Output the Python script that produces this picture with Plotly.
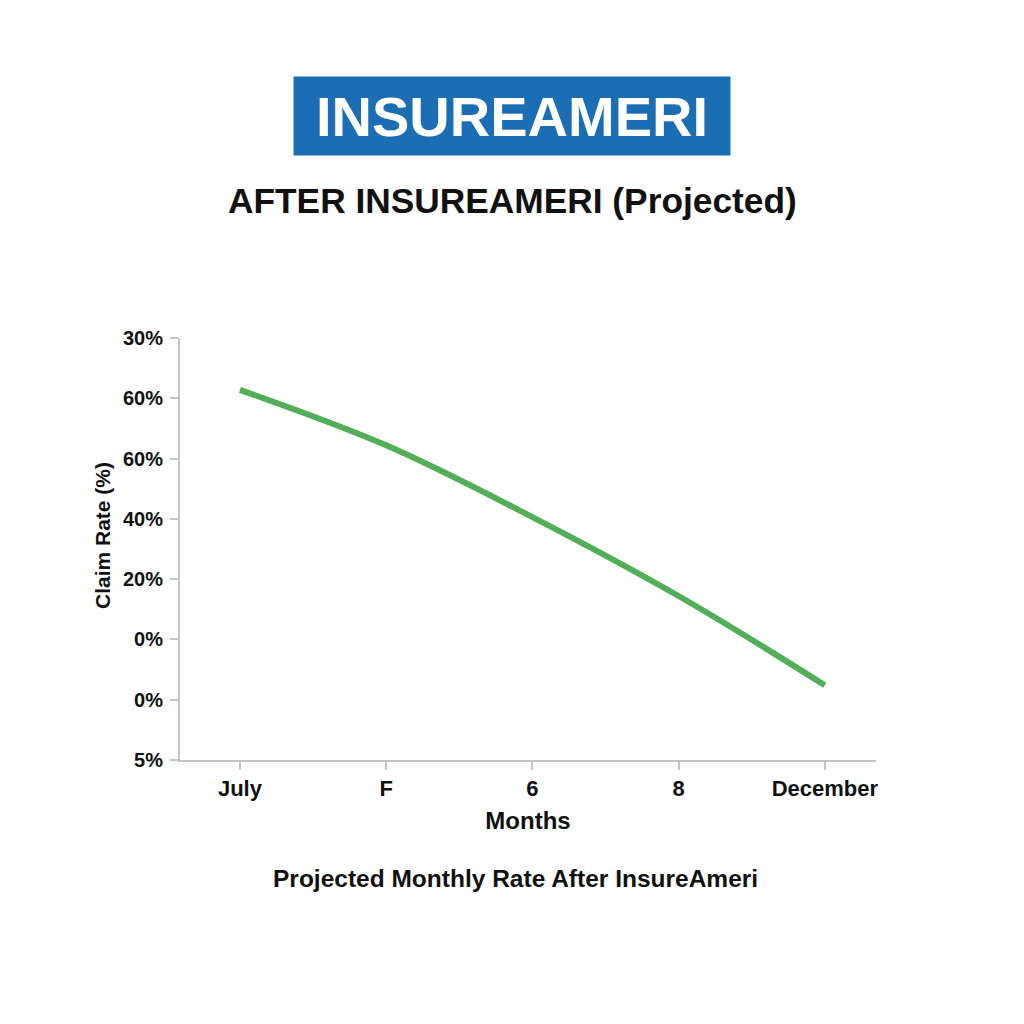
import plotly.graph_objects as go

months = ["July", "F", "6", "8", "December"]
claim_rate = [61.4, 52.2, 40.3, 27.2, 12.4]

y_tick_vals = [0, 10, 20, 30, 40, 50, 60, 70]
y_tick_text = ["5%", "0%", "0%", "20%", "40%", "60%", "60%", "30%"]

banner_text = "INSUREAMERI"
subtitle_text = "AFTER INSUREAMERI (Projected)"
caption_text = "Projected Monthly Rate After InsureAmeri"
y_title = "Claim Rate (%)"
x_title = "Months"

FONT = "Liberation Sans, Arial, sans-serif"

fig = go.Figure()
fig.add_trace(go.Scatter(
    x=months, y=claim_rate, mode="lines",
    line=dict(color="#52ae57", width=6, shape="spline", smoothing=1.0),
    showlegend=False,
))

L, R, T, B = 180, 148, 338, 264
W, H = 1024, 1024
pw, ph = W - L - R, H - T - B


def px(x):
    return (x - L) / pw


def py(y):
    return (H - B - y) / ph


fig.update_layout(
    width=W, height=H,
    margin=dict(l=L, r=R, t=T, b=B),
    paper_bgcolor="#ffffff", plot_bgcolor="#ffffff",
    font=dict(family=FONT, color="#111111"),
    xaxis=dict(
        type="category", range=[-0.41, 4.35],
        showgrid=False, zeroline=False,
        showline=True, linecolor="#c4c4c4", linewidth=2,
        ticks="outside", ticklen=8, tickcolor="#c4c4c4", tickwidth=1.5,
        tickfont=dict(size=22, family=FONT, weight="bold", color="#111111"),
        title=dict(text=x_title, font=dict(size=24, family=FONT, weight="bold", color="#111111"), standoff=12),
    ),
    yaxis=dict(
        range=[0, 70],
        tickvals=y_tick_vals, ticktext=y_tick_text,
        showgrid=False, zeroline=False,
        showline=True, linecolor="#c4c4c4", linewidth=2,
        ticks="outside", ticklen=8, tickcolor="#c4c4c4", tickwidth=1.5,
        tickfont=dict(size=20, family=FONT, weight="bold", color="#111111"),
        ticklabelstandoff=3,
    ),
)

fig.add_annotation(
    xref="paper", yref="paper", x=px(102), y=py(536),
    xanchor="center", yanchor="middle", textangle=-90,
    text=f"<b>{y_title}</b>", showarrow=False,
    font=dict(size=21, family=FONT, color="#111111"),
)
fig.add_annotation(
    xref="paper", yref="paper", x=px(512), y=py(116),
    xanchor="center", yanchor="middle",
    text=f"<b>{banner_text}</b>", showarrow=False,
    font=dict(size=56, family=FONT, color="#ffffff"),
    bgcolor="#1b6db4", width=436, height=78, align="center", valign="middle",
    borderpad=0,
)
fig.add_annotation(
    xref="paper", yref="paper", x=px(512), y=py(201),
    xanchor="center", yanchor="middle",
    text=f"<b>{subtitle_text}</b>", showarrow=False,
    font=dict(size=35.3, family=FONT, color="#111111"),
)
fig.add_annotation(
    xref="paper", yref="paper", x=px(515), y=py(878),
    xanchor="center", yanchor="middle",
    text=f"<b>{caption_text}</b>", showarrow=False,
    font=dict(size=24.5, family=FONT, color="#111111"),
)

fig.write_html("out.html")
